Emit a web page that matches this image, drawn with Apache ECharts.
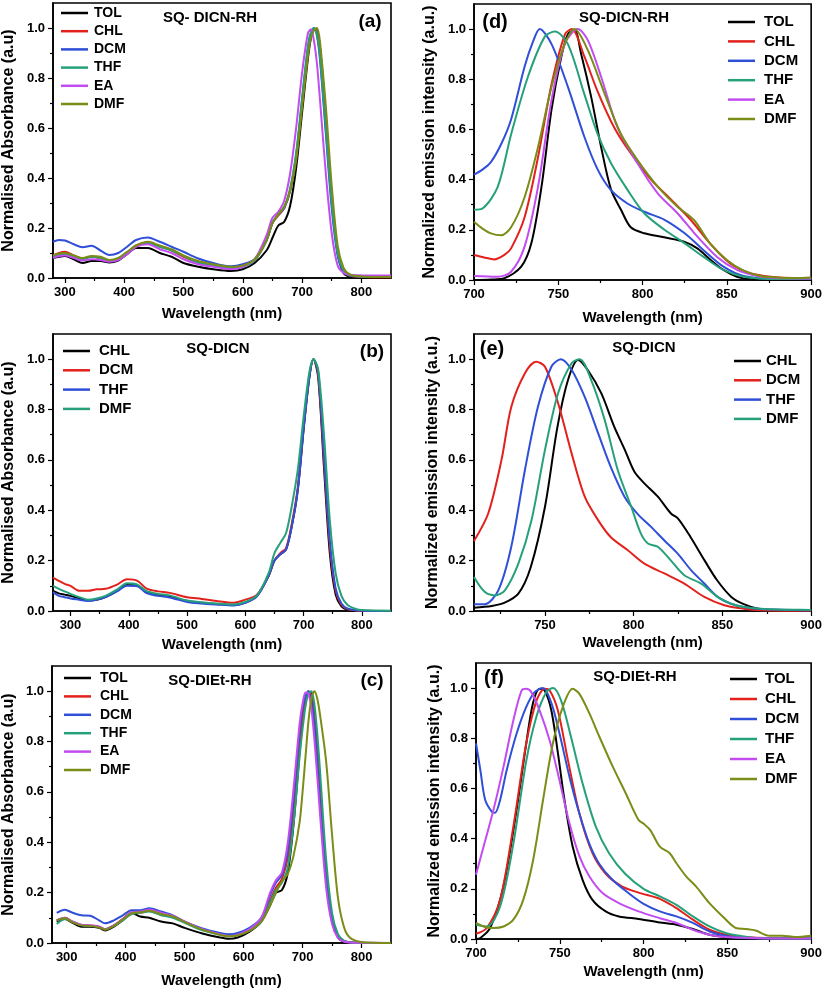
<!DOCTYPE html>
<html><head><meta charset="utf-8">
<script src="https://cdn.jsdelivr.net/npm/echarts@6/dist/echarts.min.js"></script>
<style>html,body{margin:0;padding:0;background:#fff}#c{width:825px;height:990px}</style>
</head><body><div id="c"></div><script>
// ---------- tick labels ----------
const absTicks = [300,400,500,600,700,800];
const absMinor = [350,450,550,650,750];
const emTicksD = [700,750,800,850,900];
const emTicksE = [750,800,850,900];
const emMinor = [725,775,825,875];
const yTicks = [0,0.2,0.4,0.6,0.8,1.0];
const yMinor = [0.1,0.3,0.5,0.7,0.9];

// ---------- (a) SQ- DICN-RH absorbance ----------
const aWl  = [280,290,300,315,330,345,360,375,390,405,420,440,460,480,500,525,550,580,600,620,640,650,660,670,680,690,700,710,715,720,725,730,740,750,760,770,780,800,850];
const aTOL = [0.08,0.085,0.088,0.075,0.06,0.068,0.068,0.062,0.07,0.095,0.12,0.12,0.1,0.085,0.06,0.045,0.035,0.028,0.035,0.06,0.11,0.16,0.21,0.225,0.29,0.44,0.66,0.88,0.96,0.995,0.99,0.93,0.65,0.33,0.1,0.02,0.006,0.002,0.001];
const aCHL = [0.09,0.1,0.105,0.09,0.078,0.085,0.078,0.068,0.075,0.1,0.13,0.142,0.125,0.11,0.085,0.062,0.05,0.04,0.05,0.07,0.15,0.22,0.25,0.28,0.35,0.48,0.7,0.91,0.97,0.995,0.99,0.92,0.64,0.33,0.11,0.03,0.01,0.004,0.003];
const aDCM = [0.145,0.152,0.15,0.135,0.123,0.129,0.11,0.092,0.1,0.125,0.152,0.162,0.145,0.125,0.105,0.078,0.06,0.047,0.055,0.075,0.15,0.22,0.255,0.28,0.35,0.49,0.71,0.92,0.98,1.0,0.97,0.88,0.58,0.28,0.09,0.025,0.01,0.006,0.005];
const aTHF = [0.085,0.092,0.095,0.085,0.075,0.085,0.08,0.068,0.078,0.1,0.128,0.14,0.125,0.11,0.088,0.062,0.05,0.04,0.045,0.07,0.15,0.22,0.255,0.285,0.36,0.5,0.72,0.93,0.985,1.0,0.975,0.89,0.6,0.3,0.1,0.03,0.012,0.006,0.004];
const aEA  = [0.08,0.088,0.09,0.08,0.07,0.075,0.072,0.065,0.072,0.095,0.125,0.135,0.115,0.1,0.075,0.055,0.045,0.035,0.045,0.075,0.17,0.24,0.265,0.31,0.42,0.6,0.82,0.98,0.995,0.95,0.86,0.72,0.42,0.18,0.05,0.02,0.013,0.011,0.01];
const aDMF = [0.09,0.098,0.1,0.09,0.08,0.088,0.085,0.072,0.08,0.105,0.13,0.145,0.13,0.115,0.09,0.068,0.055,0.045,0.05,0.075,0.15,0.22,0.255,0.285,0.35,0.47,0.68,0.89,0.96,0.99,1.0,0.95,0.69,0.37,0.13,0.04,0.015,0.006,0.004];

// ---------- (b) SQ-DICN absorbance ----------
const bWl  = [270,280,290,300,315,330,345,360,380,397,415,430,450,470,500,525,550,580,600,620,640,650,660,670,680,690,700,710,717,725,735,745,755,765,775,790,800,850];
const bCHL = [0.08,0.07,0.065,0.06,0.05,0.042,0.045,0.055,0.08,0.103,0.1,0.075,0.063,0.057,0.04,0.033,0.028,0.024,0.033,0.06,0.14,0.2,0.225,0.245,0.34,0.48,0.72,0.93,1.0,0.93,0.57,0.23,0.065,0.018,0.005,0.001,0,0];
const bDCM = [0.133,0.12,0.108,0.1,0.08,0.08,0.086,0.088,0.105,0.126,0.12,0.09,0.078,0.072,0.055,0.048,0.04,0.033,0.045,0.065,0.14,0.2,0.23,0.25,0.35,0.49,0.73,0.935,1.0,0.94,0.6,0.26,0.08,0.025,0.008,0.002,0.001,0];
const bTHF = [0.075,0.06,0.055,0.05,0.045,0.04,0.045,0.055,0.078,0.1,0.098,0.072,0.06,0.054,0.036,0.03,0.026,0.022,0.032,0.058,0.14,0.2,0.225,0.245,0.34,0.48,0.72,0.93,1.0,0.95,0.62,0.28,0.09,0.03,0.01,0.003,0.001,0];
const bDMF = [0.1,0.088,0.078,0.068,0.055,0.045,0.05,0.06,0.085,0.11,0.105,0.08,0.068,0.062,0.042,0.035,0.03,0.026,0.036,0.062,0.15,0.23,0.27,0.31,0.42,0.56,0.77,0.95,1.0,0.96,0.7,0.36,0.15,0.06,0.025,0.008,0.004,0.001];

// ---------- (c) SQ-DIEt-RH absorbance ----------
const cWl  = [283,297,310,325,340,355,365,380,395,410,425,440,460,480,500,530,560,575,590,610,630,645,655,665,675,685,695,700,705,710,715,720,725,730,740,750,760,770,780,800,850];
const cTOL = [0.085,0.095,0.08,0.065,0.065,0.06,0.05,0.065,0.09,0.12,0.105,0.1,0.085,0.078,0.06,0.038,0.022,0.017,0.022,0.045,0.085,0.15,0.2,0.21,0.28,0.48,0.76,0.88,0.96,0.995,0.99,0.91,0.77,0.6,0.28,0.09,0.022,0.005,0.001,0,0];
const cCHL = [0.09,0.1,0.085,0.072,0.07,0.065,0.055,0.07,0.095,0.12,0.12,0.13,0.115,0.105,0.085,0.055,0.035,0.028,0.032,0.05,0.09,0.17,0.22,0.255,0.34,0.54,0.8,0.9,0.97,1.0,0.98,0.89,0.75,0.58,0.27,0.09,0.025,0.008,0.003,0.001,0];
const cDCM = [0.12,0.132,0.12,0.11,0.108,0.09,0.078,0.09,0.11,0.13,0.13,0.138,0.125,0.11,0.085,0.058,0.04,0.035,0.04,0.06,0.1,0.19,0.24,0.27,0.37,0.58,0.84,0.93,0.98,1.0,0.96,0.86,0.71,0.54,0.25,0.085,0.025,0.008,0.003,0.001,0];
const cTHF = [0.075,0.095,0.085,0.07,0.068,0.062,0.055,0.068,0.09,0.115,0.12,0.125,0.11,0.1,0.08,0.05,0.033,0.028,0.032,0.05,0.085,0.16,0.21,0.24,0.3,0.48,0.74,0.85,0.94,0.99,1.0,0.95,0.83,0.67,0.33,0.12,0.035,0.01,0.003,0.001,0];
const cEA  = [0.09,0.1,0.085,0.073,0.07,0.065,0.055,0.07,0.095,0.122,0.125,0.133,0.12,0.108,0.085,0.055,0.035,0.028,0.033,0.055,0.1,0.2,0.25,0.28,0.4,0.62,0.87,0.95,0.995,0.99,0.93,0.81,0.66,0.5,0.22,0.075,0.02,0.006,0.002,0.001,0];
const cDMF = [0.09,0.098,0.082,0.07,0.068,0.062,0.053,0.068,0.093,0.118,0.122,0.128,0.115,0.105,0.083,0.053,0.033,0.027,0.03,0.048,0.085,0.15,0.2,0.245,0.275,0.35,0.48,0.6,0.74,0.88,0.97,1.0,0.97,0.9,0.72,0.43,0.18,0.065,0.022,0.004,0];

// ---------- (d) SQ-DICN-RH emission [nm, intensity] ----------
const dTOL = [[700,0],[710,0.002],[718,0.007],[728,0.053],[734,0.146],[740,0.37],[746,0.68],[751.8,0.89],[755.7,0.98],[759.6,0.996],[763.6,0.9],[769.5,0.73],[775.4,0.53],[781.3,0.36],[787.2,0.28],[793,0.21],[801,0.186],[812.8,0.17],[824.6,0.153],[832.5,0.126],[840.4,0.08],[848,0.04],[856,0.013],[864,0.003],[880,0.002],[900,0.003]];
const dCHL = [[700,0.1],[706,0.09],[712,0.082],[718,0.1],[722,0.126],[730,0.25],[738,0.49],[746,0.78],[754,0.98],[758,1.0],[765.5,0.89],[773,0.757],[783,0.61],[793,0.505],[805,0.4],[817,0.32],[828.5,0.24],[840,0.146],[852,0.066],[864,0.027],[876,0.013],[890,0.008],[900,0.008]];
const dDCM = [[700,0.42],[705,0.44],[710,0.47],[716,0.54],[722,0.64],[730,0.85],[735,0.95],[739,1.0],[746,0.94],[755.7,0.77],[765.5,0.57],[773.4,0.44],[781,0.36],[791,0.305],[801,0.272],[813,0.24],[825,0.186],[836,0.12],[848,0.053],[860,0.016],[880,0.004],[900,0.005]];
const dTHF = [[700,0.28],[705,0.285],[714,0.37],[722,0.58],[732,0.81],[742,0.97],[748,0.99],[755.7,0.94],[765.5,0.74],[773.4,0.58],[781.3,0.465],[791,0.36],[801,0.266],[813,0.2],[825,0.146],[836,0.093],[848,0.04],[860,0.013],[880,0.004],[900,0.005]];
const dEA  = [[700,0.016],[714,0.013],[722,0.033],[730,0.133],[738,0.372],[746,0.717],[754,0.943],[761.6,1.0],[767.5,0.956],[775.4,0.81],[785,0.61],[797,0.465],[809,0.345],[820.7,0.266],[832.5,0.173],[844,0.093],[856,0.04],[868,0.016],[880,0.008],[900,0.006]];
const dDMF = [[700,0.232],[705,0.205],[710,0.186],[716,0.178],[722,0.21],[730,0.33],[738,0.53],[746,0.77],[753.7,0.94],[759.6,1.0],[767.5,0.916],[777.4,0.744],[787,0.584],[797,0.478],[809,0.372],[820.7,0.292],[830.5,0.239],[840,0.146],[850,0.08],[860,0.037],[870,0.016],[880,0.01],[890,0.008],[900,0.01]];

// ---------- (e) SQ-DICN emission ----------
const eCHL = [[710,0.013],[720,0.02],[727,0.032],[735,0.069],[742,0.175],[750,0.414],[757,0.73],[763,0.918],[768.6,0.997],[774,0.958],[781.7,0.865],[789,0.732],[795,0.64],[800.4,0.553],[806,0.507],[813.6,0.454],[821,0.387],[825,0.367],[832,0.294],[840,0.2],[847,0.122],[855,0.056],[862,0.027],[870,0.009],[881,0.003],[900,0.002]];
const eDCM = [[710,0.278],[718,0.387],[725.5,0.6],[731,0.81],[738.7,0.944],[745,0.99],[750,0.97],[757.4,0.825],[765,0.626],[772.4,0.454],[780,0.36],[787,0.294],[796.7,0.241],[806,0.188],[817.3,0.149],[828.5,0.109],[839.8,0.056],[851,0.023],[862,0.009],[872,0.003],[900,0.001]];
const eTHF = [[710,0.027],[716,0.027],[723.7,0.082],[731,0.255],[738.7,0.56],[746,0.81],[753.6,0.97],[759,1.0],[765,0.958],[772.4,0.85],[780,0.705],[787,0.573],[794.8,0.454],[802,0.387],[809.8,0.334],[817.3,0.28],[824.8,0.228],[832.3,0.162],[839.8,0.109],[847.3,0.056],[854.8,0.029],[862,0.016],[871.6,0.008],[900,0.003]];
const eDMF = [[710,0.135],[716,0.076],[721.8,0.062],[727.4,0.082],[735,0.188],[742.4,0.36],[750,0.64],[757.4,0.865],[765,0.984],[769.6,1.0],[776,0.918],[783.6,0.76],[791,0.56],[798.6,0.414],[804,0.308],[808,0.268],[813.6,0.255],[821,0.2],[828.5,0.142],[838,0.109],[847.3,0.056],[854.8,0.029],[862,0.016],[873.5,0.008],[888.5,0.005],[900,0.004]];

// ---------- (f) SQ-DIEt-RH emission ----------
const fTOL = [[700,0],[702.6,0.004],[708.5,0.044],[716.4,0.21],[724.2,0.514],[730,0.78],[734,0.94],[738,0.997],[741,0.99],[745,0.91],[748.9,0.74],[752.8,0.554],[757.7,0.368],[763.6,0.236],[769.5,0.156],[777.4,0.11],[785.3,0.09],[797,0.08],[809.7,0.066],[819.6,0.057],[829.4,0.04],[839.3,0.017],[849,0.008],[859,0.003],[900,0.002]];
const fCHL = [[700,0.021],[706.5,0.044],[714.4,0.156],[722.3,0.448],[730,0.78],[736.1,0.95],[741,0.997],[744,0.99],[748.9,0.91],[754.8,0.715],[761.7,0.5],[769.5,0.342],[777.4,0.26],[787,0.21],[797,0.185],[809.7,0.16],[819.6,0.123],[829.4,0.077],[839.3,0.037],[849,0.017],[859,0.008],[880,0.003],[900,0.002]];
const fDCM = [[700,0.78],[702.6,0.673],[705.5,0.554],[709.5,0.507],[711.4,0.503],[714.4,0.554],[718.3,0.673],[724.2,0.818],[730,0.925],[735,0.984],[740,1.0],[745,0.94],[749.8,0.82],[755.8,0.646],[761.7,0.5],[767.6,0.38],[773.5,0.3],[781.4,0.236],[791,0.183],[800,0.14],[809.7,0.11],[819.6,0.09],[829.4,0.064],[839.3,0.03],[849,0.013],[859,0.004],[900,0.002]];
const fTHF = [[700,0.057],[706.5,0.05],[714.4,0.13],[722.3,0.38],[730,0.71],[736,0.885],[742,0.984],[746,1.0],[750.8,0.95],[756.7,0.805],[763.6,0.62],[771.5,0.448],[779.4,0.342],[789,0.26],[800,0.2],[809.7,0.17],[819.6,0.136],[829.4,0.09],[839.3,0.05],[849,0.024],[859,0.011],[868.8,0.003],[900,0.002]];
const fEA  = [[700,0.256],[704.5,0.368],[710.4,0.514],[716.4,0.686],[722.3,0.872],[727.2,0.99],[730,0.997],[733,0.984],[738,0.91],[744,0.79],[749.8,0.633],[755.8,0.46],[761.7,0.33],[767.6,0.25],[775.5,0.183],[785.3,0.143],[797,0.11],[809.7,0.083],[819.6,0.064],[829.4,0.037],[839.3,0.017],[849,0.008],[870,0.003],[900,0.002]];
const fDMF = [[700,0.064],[704.5,0.05],[710.4,0.044],[716.4,0.05],[722.3,0.077],[728.2,0.156],[734.1,0.315],[740,0.554],[745.9,0.78],[751.8,0.925],[757.7,0.997],[761.7,0.977],[767.6,0.9],[773.5,0.808],[781.4,0.69],[789.2,0.583],[797,0.474],[800,0.46],[804,0.434],[809.7,0.368],[815.6,0.342],[819.6,0.302],[825.5,0.249],[831.4,0.209],[839.3,0.143],[847.2,0.09],[855,0.044],[861,0.04],[866.9,0.034],[874.7,0.013],[882.6,0.013],[890.5,0.008],[900,0.013]];

// ---------- styling ----------
const FONT = '"Liberation Sans", Arial, Helvetica, sans-serif';
const BLACK = '#000000', RED = '#e3211c', BLUE = '#2f4fd8', TEAL = '#26a07a', PURPLE = '#c24cf0', OLIVE = '#7b8c17';
const zip = (xs, ys) => xs.map((x, i) => [x, ys[i]]);

const panels = [
  {id:'a', g:[52,3,339,275], xmin:280, xmax:850, xt:absTicks, xm:absMinor, xng:28, yng:36, yname:'Normalised Absorbance (a.u)',
   series:[['TOL',zip(aWl,aTOL),BLACK],['CHL',zip(aWl,aCHL),RED],['DCM',zip(aWl,aDCM),BLUE],['THF',zip(aWl,aTHF),TEAL],['EA',zip(aWl,aEA),PURPLE],['DMF',zip(aWl,aDMF),OLIVE]],
   leg:{left:61, top:6, fs:14, gap:4.2, pad:1}},
  {id:'d', g:[474,4,339,276], xmin:700, xmax:900, xt:emTicksD, xm:emMinor, xng:30, yng:36, yname:'Normalized emission intensity (a.u.)',
   series:[['TOL',dTOL,BLACK],['CHL',dCHL,RED],['DCM',dDCM,BLUE],['THF',dTHF,TEAL],['EA',dEA,PURPLE],['DMF',dDMF,OLIVE]],
   leg:{left:728, top:14.5, fs:15, gap:4.4, pad:4}},
  {id:'b', g:[52,334,339,277], xmin:270, xmax:850, xt:absTicks, xm:absMinor, xng:26, yng:36, yname:'Normalised Absorbance (a.u)',
   series:[['CHL',zip(bWl,bCHL),BLACK],['DCM',zip(bWl,bDCM),RED],['THF',zip(bWl,bTHF),BLUE],['DMF',zip(bWl,bDMF),TEAL]],
   leg:{left:63, top:343.5, fs:15, gap:4.3, pad:4}},
  {id:'e', g:[474,334,338,277], xmin:710, xmax:900, xt:emTicksE, xm:emMinor, xng:24.5, yng:33, yname:'Normalized emission intensity (a.u.)',
   series:[['CHL',eCHL,BLACK],['DCM',eDCM,RED],['THF',eTHF,BLUE],['DMF',eDMF,TEAL]],
   leg:{left:734, top:353.5, fs:15, gap:4.3, pad:0}},
  {id:'c', g:[50,666,341,277], xmin:275, xmax:850, xt:absTicks, xm:absMinor, xng:30, yng:35, yname:'Normalised Absorbance (a.u)',
   series:[['TOL',zip(cWl,cTOL),BLACK],['CHL',zip(cWl,cCHL),RED],['DCM',zip(cWl,cDCM),BLUE],['THF',zip(cWl,cTHF),TEAL],['EA',zip(cWl,cEA),PURPLE],['DMF',zip(cWl,cDMF),OLIVE]],
   leg:{left:64, top:671, fs:14, gap:4.4, pad:4}},
  {id:'f', g:[476,663,339,276], xmin:700, xmax:900, xt:emTicksD, xm:emMinor, xng:25, yng:33, yname:'Normalized emission intensity (a.u.)',
   series:[['TOL',fTOL,BLACK],['CHL',fCHL,RED],['DCM',fDCM,BLUE],['THF',fTHF,TEAL],['EA',fEA,PURPLE],['DMF',fDMF,OLIVE]],
   leg:{left:730, top:671.5, fs:15, gap:5, pad:3}}
];

const grid = [], xAxis = [], yAxis = [], series = [], legend = [];
const tickStyle = {color:BLACK, width:1.2};
panels.forEach((p, i) => {
  grid.push({left:p.g[0], top:p.g[1], width:p.g[2], height:p.g[3], show:true, borderColor:BLACK, borderWidth:1.6, backgroundColor:'transparent'});
  xAxis.push({gridIndex:i, type:'value', min:p.xmin, max:p.xmax, position:'bottom',
    name:'Wavelength (nm)', nameLocation:'middle', nameGap:p.xng,
    nameTextStyle:{fontFamily:FONT, fontWeight:'bold', fontSize:15, color:BLACK},
    axisLine:{show:true, onZero:false, lineStyle:{color:BLACK, width:1.6}},
    axisTick:{show:true, inside:false, length:5, customValues:p.xt, lineStyle:tickStyle},
    axisLabel:{show:true, customValues:p.xt, margin:8, fontFamily:FONT, fontWeight:'bold', fontSize:13, color:BLACK},
    splitLine:{show:false}});
  xAxis.push({gridIndex:i, type:'value', min:p.xmin, max:p.xmax, position:'bottom',
    axisLine:{show:false}, axisTick:{show:true, inside:false, length:3, customValues:p.xm, lineStyle:tickStyle},
    axisLabel:{show:false}, splitLine:{show:false}});
  yAxis.push({gridIndex:i, type:'value', min:0, max:1.1, position:'left',
    name:p.yname, nameLocation:'middle', nameRotate:90, nameGap:p.yng,
    nameTextStyle:{fontFamily:FONT, fontWeight:'bold', fontSize:16, color:BLACK},
    axisLine:{show:true, onZero:false, lineStyle:{color:BLACK, width:1.6}},
    axisTick:{show:true, inside:false, length:5, customValues:yTicks, lineStyle:tickStyle},
    axisLabel:{show:true, customValues:yTicks, margin:8, fontFamily:FONT, fontWeight:'bold', fontSize:13, color:BLACK,
      formatter:v => Number(v).toFixed(1)},
    splitLine:{show:false}});
  yAxis.push({gridIndex:i, type:'value', min:0, max:1.1, position:'left',
    axisLine:{show:false}, axisTick:{show:true, inside:false, length:3, customValues:yMinor, lineStyle:tickStyle},
    axisLabel:{show:false}, splitLine:{show:false}});
  const names = [];
  p.series.forEach(([nm, data, col]) => {
    const full = p.id + ':' + nm;
    names.push(full);
    series.push({type:'line', name:full, xAxisIndex:2*i, yAxisIndex:2*i, data:data,
      symbol:'none', smooth:0.3, clip:true,
      lineStyle:{color:col, width:2}, itemStyle:{color:col}, emphasis:{disabled:true}, animation:false});
  });
  legend.push({data:names, orient:'vertical', left:p.leg.left, top:p.leg.top, padding:0,
    itemGap:p.leg.gap, itemWidth:27, itemHeight:2.5, icon:'rect', selectedMode:false,
    formatter:n => n.split(':')[1],
    textStyle:{fontFamily:FONT, fontWeight:'bold', fontSize:p.leg.fs, lineHeight:p.leg.fs, color:BLACK, padding:[0,0,0,p.leg.pad]}});
});

const txt = (x, y, s, size) => ({type:'text', x:x, y:y, z:100,
  style:{text:s, fill:BLACK, font:'bold ' + size + 'px ' + FONT, align:'center', verticalAlign:'middle'}});
const graphic = [
  txt(210,18,'SQ- DICN-RH',15), txt(370,22,'(a)',19),
  txt(624,18,'SQ-DICN-RH',15), txt(495,22,'(d)',20),
  txt(218,349,'SQ-DICN',15), txt(372,352,'(b)',19),
  txt(644,348,'SQ-DICN',15), txt(492,349,'(e)',20),
  txt(210,681,'SQ-DIEt-RH',15), txt(372,681,'(c)',19),
  txt(635,677,'SQ-DIEt-RH',15), txt(494,678,'(f)',20)
];

const chart = echarts.init(document.getElementById('c'), null, {renderer:'canvas'});
chart.setOption({animation:false, backgroundColor:'#ffffff', grid, xAxis, yAxis, series, legend, graphic});
</script></body></html>
